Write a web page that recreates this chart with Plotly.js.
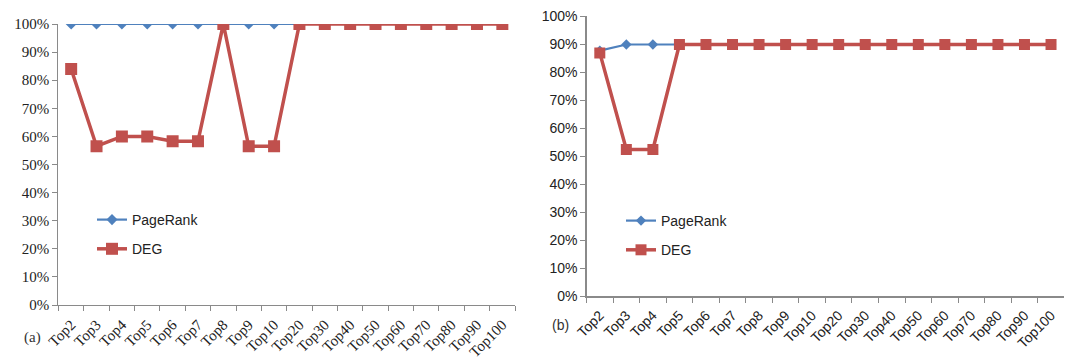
<!DOCTYPE html>
<html>
<head>
<meta charset="utf-8">
<script src="https://cdn.plot.ly/plotly-3.0.1.min.js"></script>
<style>html,body{margin:0;padding:0;background:#fff;}#chart{width:1077px;height:361px;}</style>
</head>
<body>
<div id="chart"></div>
<script>
var categories = ['Top2','Top3','Top4','Top5','Top6','Top7','Top8','Top9','Top10','Top20','Top30','Top40','Top50','Top60','Top70','Top80','Top90','Top100'];
var pagerankA = [1,1,1,1,1,1,1,1,1,1,1,1,1,1,1,1,1,1];
var degA = [0.84,0.565,0.6,0.6,0.583,0.583,1,0.565,0.565,1,1,1,1,1,1,1,1,1];
var pagerankB = [0.878,0.9,0.9,0.9,0.9,0.9,0.9,0.9,0.9,0.9,0.9,0.9,0.9,0.9,0.9,0.9,0.9,0.9];
var degB = [0.87,0.525,0.525,0.9,0.9,0.9,0.9,0.9,0.9,0.9,0.9,0.9,0.9,0.9,0.9,0.9,0.9,0.9];
var seriesNames = ['PageRank','DEG'];
var panelLabels = ['(a)','(b)'];

var blue = '#4F81BD', red = '#C0504D';
var serif = 'Liberation Serif, Times New Roman, serif';
var sans = 'Liberation Sans, Arial, sans-serif';

var traces = [
  {x: categories, y: pagerankA, name: seriesNames[0], type: 'scatter', mode: 'lines+markers',
   line: {color: blue, width: 2.2}, marker: {symbol: 'diamond', size: 8.5, color: blue},
   xaxis: 'x', yaxis: 'y', legend: 'legend', legendgroup: 'a1'},
  {x: categories, y: degA, name: seriesNames[1], type: 'scatter', mode: 'lines+markers',
   line: {color: red, width: 3.5}, marker: {symbol: 'square', size: 12, color: red},
   xaxis: 'x', yaxis: 'y', legend: 'legend', legendgroup: 'a2'},
  {x: categories, y: pagerankB, name: seriesNames[0], type: 'scatter', mode: 'lines+markers',
   line: {color: blue, width: 2.2}, marker: {symbol: 'diamond', size: 8, color: blue},
   xaxis: 'x2', yaxis: 'y2', legend: 'legend2', legendgroup: 'b1'},
  {x: categories, y: degB, name: seriesNames[1], type: 'scatter', mode: 'lines+markers',
   line: {color: red, width: 3.5}, marker: {symbol: 'square', size: 11, color: red},
   xaxis: 'x2', yaxis: 'y2', legend: 'legend2', legendgroup: 'b2'}
];

function xax(domain, font) {
  return {domain: domain, type: 'category', range: [-0.5, categories.length - 0.5], autorange: false,
    tickson: 'boundaries', ticks: 'outside', ticklen: 5, ticklabelstandoff: 4,
    tickcolor: '#8a8a8a', showline: true, linecolor: '#8a8a8a', linewidth: 1.2, showgrid: false,
    zeroline: false, tickangle: -45, tickfont: font, automargin: false, fixedrange: true};
}
function yax(domain, font, anchor) {
  return {domain: domain, range: [0, 1], dtick: 0.1, tickformat: '.0%', ticks: 'outside', ticklen: 5,
    tickcolor: '#8a8a8a', showline: true, linecolor: '#8a8a8a', linewidth: 1.2, showgrid: false,
    zeroline: false, tickfont: font, automargin: false, anchor: anchor, fixedrange: true};
}

var layout = {
  width: 1077, height: 361,
  margin: {l: 0, r: 0, t: 0, b: 0},
  paper_bgcolor: '#fff', plot_bgcolor: '#fff',
  showlegend: true,
  xaxis: xax([0.0543, 0.4782], {family: serif, size: 15, color: '#222'}),
  yaxis: yax([0.1551, 0.9335], {family: serif, size: 15, color: '#222'}, 'x'),
  xaxis2: Object.assign(xax([0.5446, 0.9882], {family: sans, size: 14, color: '#222'}), {anchor: 'y2'}),
  yaxis2: yax([0.1787, 0.9543], {family: sans, size: 14, color: '#222'}, 'x2'),
  legend: {x: 92/1077, y: 1 - 204/361, xanchor: 'left', yanchor: 'top', bgcolor: 'rgba(0,0,0,0)',
    font: {family: sans, size: 14, color: '#222'}, itemwidth: 30, traceorder: 'grouped', tracegroupgap: 8},
  legend2: {x: 621/1077, y: 1 - 205/361, xanchor: 'left', yanchor: 'top', bgcolor: 'rgba(0,0,0,0)',
    font: {family: sans, size: 14, color: '#222'}, itemwidth: 30, traceorder: 'grouped', tracegroupgap: 8},
  annotations: [
    {text: panelLabels[0], xref: 'paper', yref: 'paper', x: 22/1077, y: 1 - 337/361, xanchor: 'left', yanchor: 'middle',
     showarrow: false, font: {family: serif, size: 15, color: '#333'}},
    {text: panelLabels[1], xref: 'paper', yref: 'paper', x: 550/1077, y: 1 - 325/361, xanchor: 'left', yanchor: 'middle',
     showarrow: false, font: {family: sans, size: 14, color: '#333'}}
  ]
};

Plotly.newPlot('chart', traces, layout, {displayModeBar: false, staticPlot: true});
</script>
</body>
</html>
